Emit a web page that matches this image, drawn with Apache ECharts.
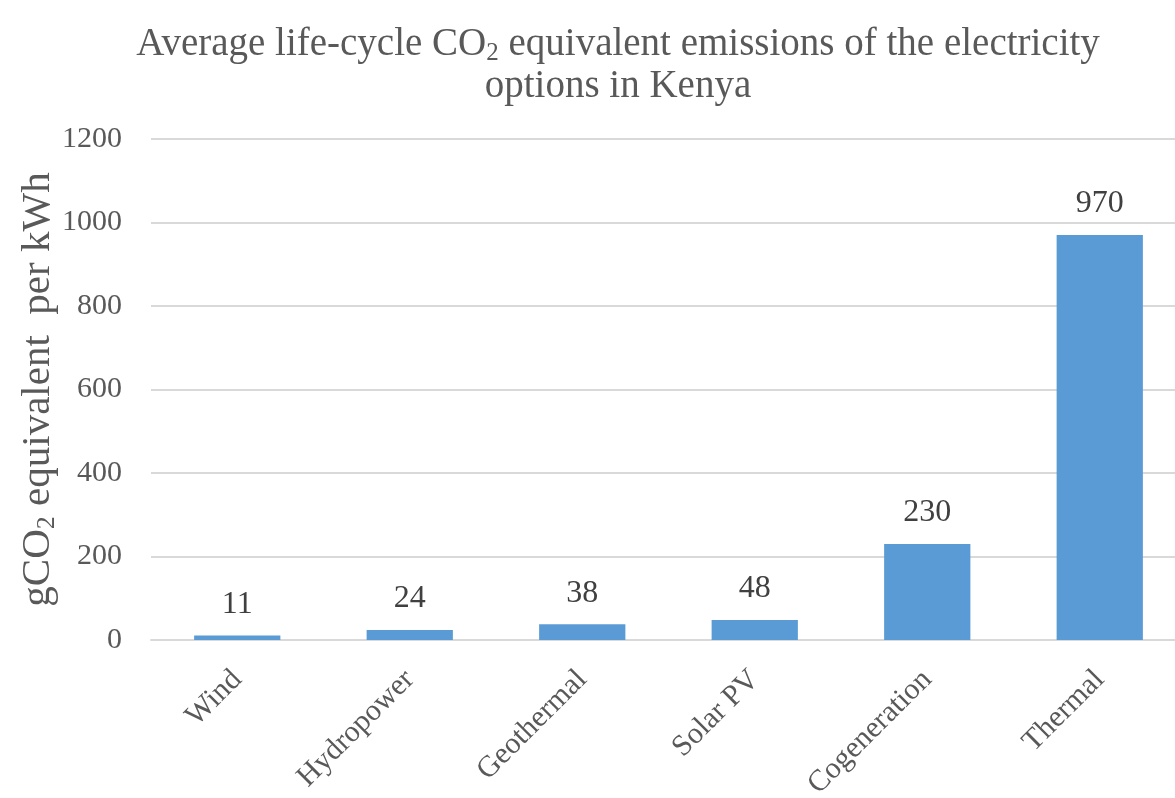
<!DOCTYPE html>
<html>
<head>
<meta charset="utf-8">
<script src="https://cdn.jsdelivr.net/npm/echarts@6/dist/echarts.min.js"></script>
<style>
  html, body { margin: 0; padding: 0; background: #fff; }
  #chart { width: 1175px; height: 798px; }
</style>
</head>
<body>
<div id="chart"></div>
<script>
// Electricity options and their average life-cycle emissions (gCO2e per kWh)
const categories = ['Wind', 'Hydropower', 'Geothermal', 'Solar PV', 'Cogeneration', 'Thermal'];
const emissions = [11, 24, 38, 48, 230, 970];
const yTicks = { min: 0, max: 1200, interval: 200 };

const serif = '"Liberation Serif", "DejaVu Serif", serif';
const grey = '#595959';

const chart = echarts.init(document.getElementById('chart'), null, { renderer: 'canvas' });

chart.setOption({
  animation: false,
  backgroundColor: '#ffffff',
  title: {
    text: 'Average life-cycle CO{sub|2} equivalent emissions of the electricity\noptions in Kenya',
    left: 613,
    textAlign: 'center',
    top: 19,
    textStyle: {
      fontFamily: serif,
      fontSize: 39,
      fontWeight: 'normal',
      color: grey,
      lineHeight: 42,
      rich: {
        sub: {
          fontFamily: serif,
          fontSize: 25,
          color: grey,
          padding: [17, 0, 0, 0],
          lineHeight: 42
        }
      }
    }
  },
  grid: {
    left: 151,
    top: 139,
    width: 1035,
    height: 501,
    containLabel: false,
    outerBoundsMode: 'none'
  },
  xAxis: {
    type: 'category',
    data: categories,
    axisLine: { show: true, lineStyle: { color: '#d9d9d9', width: 2 } },
    axisTick: { show: false },
    axisLabel: {
      rotate: 45,
      margin: 35,
      fontFamily: serif,
      fontSize: 30,
      color: grey
    }
  },
  yAxis: {
    type: 'value',
    min: yTicks.min,
    max: yTicks.max,
    interval: yTicks.interval,
    name: 'gCO{sub|2} equivalent  per kWh',
    nameLocation: 'middle',
    nameRotate: 90,
    nameGap: 91,
    nameMoveOverlap: false,
    nameTextStyle: {
      fontFamily: serif,
      fontSize: 41,
      color: grey,
      rich: {
        sub: {
          fontFamily: serif,
          fontSize: 26,
          color: grey,
          padding: [18, 0, 0, 0]
        }
      }
    },
    axisLine: { show: false },
    axisTick: { show: false },
    splitLine: { show: true, lineStyle: { color: '#d9d9d9', width: 2 } },
    axisLabel: {
      margin: 29,
      fontFamily: serif,
      fontSize: 30,
      color: grey,
      formatter: (v) => String(v)
    }
  },
  series: [{
    type: 'bar',
    data: emissions,
    barWidth: '50%',
    itemStyle: { color: '#5b9bd5' },
    label: {
      show: true,
      position: 'top',
      distance: 15,
      fontFamily: serif,
      fontSize: 32,
      color: '#404040'
    }
  }]
});
</script>
</body>
</html>
